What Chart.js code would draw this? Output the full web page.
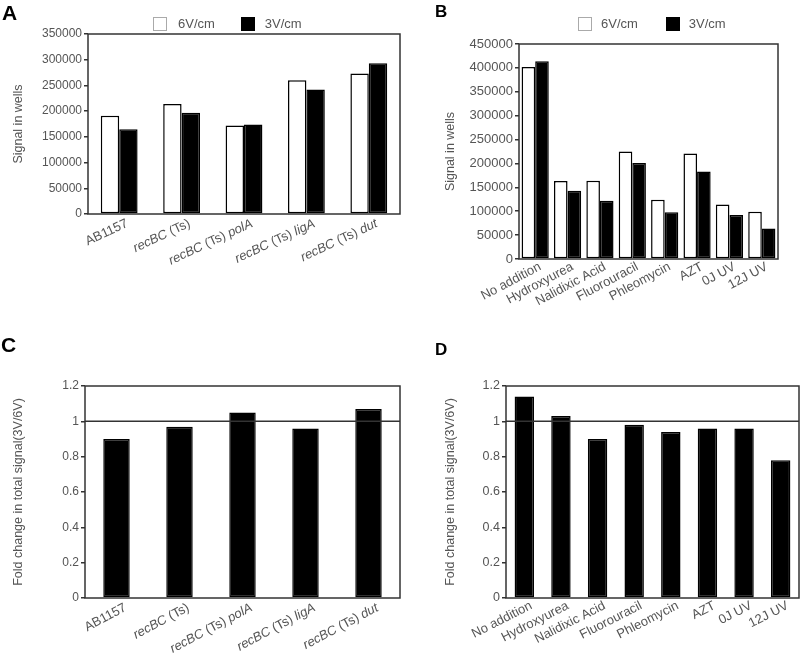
<!DOCTYPE html>
<html>
<head>
<meta charset="utf-8">
<script src="https://cdn.jsdelivr.net/npm/chart.js@4"></script>
<style>
  body { margin: 0; background: #fff; }
  #page { position: relative; width: 800px; height: 661px; font-family: "Liberation Sans", Arial, sans-serif; color: #555; }
  .panel { position: absolute; }
  .letter { position: absolute; font-weight: bold; color: #000; line-height: 1; }
  .legend { position: absolute; font-size: 13px; display: flex; align-items: center; }
  .legend span.box { display: inline-block; width: 14px; height: 14px; box-sizing: border-box; }
  .white { border: 1px solid #aaa; background: #fff; }
  .black { background: #000; border: 1px solid #000; }
</style>
</head>
<body>
<div id="page">
  <div class="panel" style="left:0;top:0;width:402px;height:300px"><canvas id="chartA"></canvas></div>
  <div class="panel" style="left:400px;top:0;width:400px;height:328px"><canvas id="chartB"></canvas></div>
  <div class="panel" style="left:0;top:330px;width:402px;height:331px"><canvas id="chartC"></canvas></div>
  <div class="panel" style="left:400px;top:330px;width:400px;height:331px"><canvas id="chartD"></canvas></div>

  <div class="letter" style="left:2px;top:2px;font-size:21px">A</div>
  <div class="letter" style="left:435px;top:3px;font-size:17px">B</div>
  <div class="letter" style="left:1px;top:334px;font-size:21px">C</div>
  <div class="letter" style="left:435px;top:341px;font-size:17px">D</div>

  <div class="legend" style="left:153px;top:16px">
    <span class="box white"></span><span style="margin-left:11px">6V/cm</span>
    <span class="box black" style="margin-left:26px"></span><span style="margin-left:10px">3V/cm</span>
  </div>
  <div class="legend" style="left:578px;top:16px">
    <span class="box white"></span><span style="margin-left:9px">6V/cm</span>
    <span class="box black" style="margin-left:28px"></span><span style="margin-left:9px">3V/cm</span>
  </div>
</div>

<script>
// strains (panels A and C)
const strainLabels = ["AB1157", "recBC (Ts)", "recBC (Ts) polA", "recBC (Ts) ligA", "recBC (Ts) dut"];
const strain6V = [191000, 214000, 172000, 260000, 273000];
const strain3V = [165000, 197000, 174000, 242000, 293000];
const strainFold = [0.90, 0.97, 1.05, 0.96, 1.07];

// treatments (panels B and D)
const treatLabels = ["No addition", "Hydroxyurea", "Nalidixic Acid", "Fluorouracil", "Phleomycin", "AZT", "0J UV", "12J UV"];
const treat6V = [402000, 163000, 164000, 225000, 124000, 221000, 114000, 99000];
const treat3V = [414000, 143000, 122000, 201000, 98000, 183000, 92000, 64000];
const treatFold = [1.14, 1.03, 0.90, 0.98, 0.94, 0.96, 0.96, 0.78];

const italicWords = /(recBC|polA|ligA|dut)/;
const FONT = "'Liberation Sans', Arial, sans-serif";
const GREY = "#555";
const AXIS = "#333";

// draws the box round the plot area and the line at 1 when asked
const framePlugin = {
    id: "frame",
    afterDatasetsDraw(chart, args, opts) {
        const { ctx, chartArea } = chart;
        ctx.save();
        ctx.strokeStyle = AXIS;
        ctx.lineWidth = 1.5;
        if (opts.refLine !== undefined) {
            const y = chart.scales.y.getPixelForValue(opts.refLine);
            ctx.beginPath();
            ctx.moveTo(chartArea.left, y);
            ctx.lineTo(chartArea.right, y);
            ctx.stroke();
        }
        ctx.strokeRect(chartArea.left, chartArea.top, chartArea.width, chartArea.height);
        ctx.restore();
    }
};

// x tick labels with gene names in italics, rotated
const richTicks = {
    id: "richTicks",
    afterDraw(chart, args, opts) {
        const { ctx, chartArea } = chart;
        const xs = chart.scales.x;
        ctx.save();
        ctx.fillStyle = GREY;
        ctx.textBaseline = "middle";
        chart.data.labels.forEach((lab, i) => {
            const parts = lab.split(italicWords).filter(p => p.length);
            const segs = parts.map(p => ({ text: p, font: (italicWords.test(p) ? "italic " : "") + opts.size + "px " + FONT }));
            let total = 0;
            segs.forEach(s => { ctx.font = s.font; s.w = ctx.measureText(s.text).width; total += s.w; });
            ctx.save();
            ctx.translate(xs.getPixelForValue(i) + opts.dx, chartArea.bottom + opts.dy);
            ctx.rotate(-opts.angle * Math.PI / 180);
            let x = -total;
            segs.forEach(s => { ctx.font = s.font; ctx.fillText(s.text, x, 0); x += s.w; });
            ctx.restore();
        });
        ctx.restore();
    }
};

function makeChart(id, cfg) {
    const datasets = cfg.series.map(s => ({
        data: s.data,
        backgroundColor: s.fill,
        borderColor: "#000",
        borderWidth: 1.5,
        borderSkipped: false
    }));

    return new Chart(document.getElementById(id), {
        type: "bar",
        data: { labels: cfg.labels, datasets },
        options: {
            responsive: true,
            maintainAspectRatio: false,
            animation: false,
            datasets: { bar: { barPercentage: 1, categoryPercentage: cfg.catPct } },
            layout: { padding: { top: cfg.area.top, right: cfg.area.right, left: 0, bottom: 0 } },
            plugins: {
                legend: { display: false },
                tooltip: { enabled: false },
                frame: { refLine: cfg.refLine },
                richTicks: { size: 13, angle: cfg.angle, dx: cfg.dx, dy: cfg.dy }
            },
            scales: {
                x: {
                    grid: { display: false },
                    border: { display: false },
                    ticks: { display: false },
                    afterFit(scale) { scale.height = cfg.area.below; }
                },
                y: {
                    min: 0,
                    max: cfg.yMax,
                    ticks: {
                        stepSize: cfg.yStep,
                        color: GREY,
                        padding: 2,
                        font: { family: FONT, size: cfg.tickSize },
                        callback: v => String(Number(v.toFixed(1)))
                    },
                    grid: { drawOnChartArea: false, drawTicks: true, tickLength: 4, color: AXIS, lineWidth: 1.5 },
                    border: { display: false },
                    title: {
                        display: true,
                        text: cfg.yTitle,
                        color: GREY,
                        font: { family: FONT, size: 12.5 },
                        padding: { top: cfg.titlePad, bottom: 0 }
                    },
                    afterFit(scale) { scale.width = cfg.area.left; }
                }
            }
        },
        plugins: [framePlugin, richTicks]
    });
}

document.addEventListener("DOMContentLoaded", () => {
    makeChart("chartA", {
        labels: strainLabels,
        series: [{ data: strain6V, fill: "#fff" }, { data: strain3V, fill: "#000" }],
        catPct: 0.59, yMax: 350000, yStep: 50000, tickSize: 12,
        yTitle: "Signal in wells", titlePad: 11,
        area: { left: 88, top: 34, right: 2, below: 86 },
        angle: 25, dx: 8, dy: 9
    });
    makeChart("chartB", {
        labels: treatLabels,
        series: [{ data: treat6V, fill: "#fff" }, { data: treat3V, fill: "#000" }],
        catPct: 0.84, yMax: 450000, yStep: 50000, tickSize: 13,
        yTitle: "Signal in wells", titlePad: 43,
        area: { left: 119, top: 44, right: 22, below: 69 },
        angle: 28, dx: 5, dy: 7
    });
    makeChart("chartC", {
        labels: strainLabels,
        series: [{ data: strainFold, fill: "#000" }],
        catPct: 0.42, yMax: 1.2, yStep: 0.2, tickSize: 12,
        yTitle: "Fold change in total signal(3V/6V)", titlePad: 11, refLine: 1,
        area: { left: 85, top: 56, right: 2, below: 63 },
        angle: 28, dx: 9, dy: 9
    });
    makeChart("chartD", {
        labels: treatLabels,
        series: [{ data: treatFold, fill: "#000" }],
        catPct: 0.53, yMax: 1.2, yStep: 0.2, tickSize: 12.5,
        yTitle: "Fold change in total signal(3V/6V)", titlePad: 43, refLine: 1,
        area: { left: 106, top: 56, right: 1, below: 63 },
        angle: 27, dx: 7, dy: 7
    });
});
</script>
</body>
</html>
